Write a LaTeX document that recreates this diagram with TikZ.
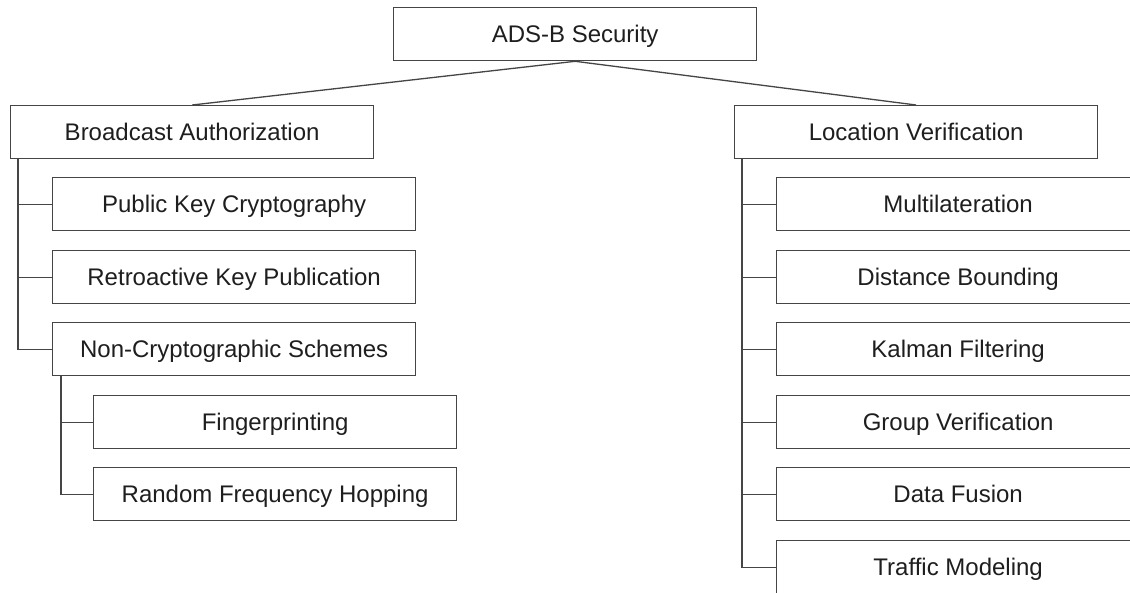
\documentclass[tikz,border=0pt]{standalone}
\usepackage{fontspec}
\setmainfont{Liberation Sans}
\definecolor{edgegray}{HTML}{454545}
\definecolor{textblack}{HTML}{1E1E1E}
\tikzset{
  item/.style={draw=edgegray, line width=1.3pt, fill=white, rectangle,
    minimum width=363pt, minimum height=53pt, inner sep=0pt,
    anchor=north west, text=textblack, font=\fontsize{24}{28}\selectfont,
    text height=17.2pt, text depth=0pt},
  link/.style={draw=edgegray, line width=1.3pt}
}
\begin{document}
\begin{tikzpicture}[x=1pt, y=-1pt]
  \useasboundingbox (0,0) rectangle (1130,592);
  \clip (0,0) rectangle (1130,592);
  \fill[white] (0,0) rectangle (1130,592);

  % root and the two main branches
  \node[item] (root)  at (393,7)   {ADS-B Security};
  \node[item] (bauth) at (10,105)  {Broadcast Authorization};
  \node[item] (lver)  at (734,105) {Location Verification};

  % broadcast authorization subtree
  \node[item] (pkc)   at (52,177)  {Public Key Cryptography};
  \node[item] (rkp)   at (52,250)  {Retroactive Key Publication};
  \node[item] (ncs)   at (52,322)  {Non-Cryptographic Schemes};
  \node[item] (fpr)   at (93,395)  {Fingerprinting};
  \node[item] (rfh)   at (93,467)  {Random Frequency Hopping};

  % location verification subtree
  \node[item] (mlat)  at (776,177) {Multilateration};
  \node[item] (dbnd)  at (776,250) {Distance Bounding};
  \node[item] (kalm)  at (776,322) {Kalman Filtering};
  \node[item] (grpv)  at (776,395) {Group Verification};
  \node[item] (dfus)  at (776,467) {Data Fusion};
  \node[item] (traf)  at (776,540) {Traffic Modeling};

  % connectors
  \draw[link] (root.south) -- (bauth.north);
  \draw[link] (root.south) -- (lver.north);

  \foreach \c in {pkc,rkp,ncs}
    \draw[link] ([xshift=8pt]bauth.south west) |- (\c.west);
  \foreach \c in {fpr,rfh}
    \draw[link] ([xshift=9pt]ncs.south west) |- (\c.west);
  \foreach \c in {mlat,dbnd,kalm,grpv,dfus,traf}
    \draw[link] ([xshift=8pt]lver.south west) |- (\c.west);
\end{tikzpicture}
\end{document}
